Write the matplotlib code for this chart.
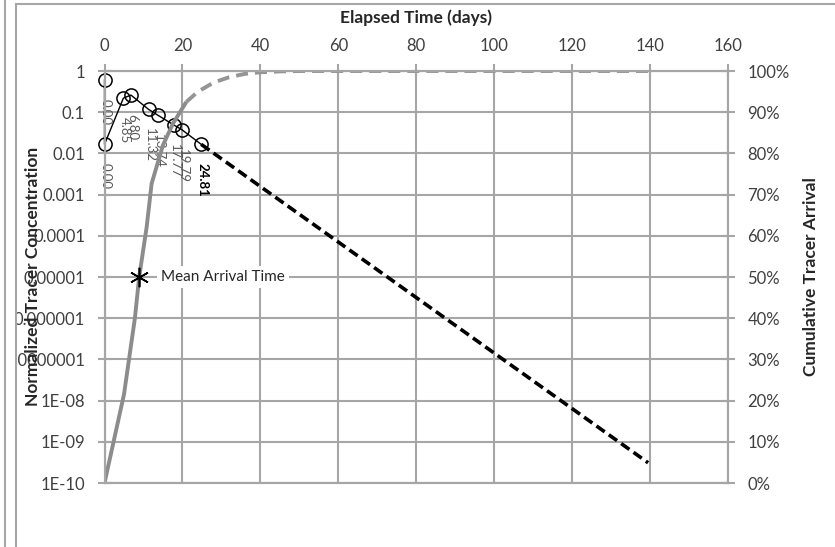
import matplotlib
matplotlib.use("Agg")
import matplotlib.pyplot as plt
from matplotlib.lines import Line2D
from matplotlib.patches import Rectangle

plt.rcParams['font.family'] = ['Lato', 'DejaVu Sans']

# ---- data ----
conc_days = [0.0, 0.0, 4.85, 6.80, 11.32, 13.74, 17.77, 19.79, 24.81]
conc_vals = [0.6, 0.0166, 0.22, 0.26, 0.117, 0.084, 0.049, 0.038, 0.0166]
conc_labels = ["0.00", "0.00", "4.85", "6.80", "11.32", "13.74", "17.77", "19.79", "24.81"]

extrap_days = [24.81, 139.5]
extrap_conc = [0.0166, 3.1e-10]

cum_days = [0.0, 5.0, 7.8, 8.9, 10.8, 12.1, 15.0, 17.6, 21.0]
cum_pct = [0.0, 21.5, 40.0, 50.0, 62.0, 72.7, 82.0, 87.3, 92.5]

cum_ext_days = [21.0, 24.0, 28.0, 32.0, 36.0, 40.0, 45.0, 50.0, 60.0, 140.0]
cum_ext_pct = [92.5, 95.0, 97.2, 98.5, 99.3, 99.7, 99.9, 100.0, 100.0, 100.0]

mean_day = 8.9
mean_pct = 50.0

x_ticks = [0, 20, 40, 60, 80, 100, 120, 140, 160]
y_ticks = [1, 0.1, 0.01, 0.001, 0.0001, 0.00001, 0.000001, 0.0000001, 1e-8, 1e-9, 1e-10]
y_tick_labels = ["1", "0.1", "0.01", "0.001", "0.0001", "0.00001", "0.000001",
                 "0.0000001", "1E-08", "1E-09", "1E-10"]
pct_ticks = [0, 10, 20, 30, 40, 50, 60, 70, 80, 90, 100]
pct_labels = [f"{p}%" for p in pct_ticks]

# ---- figure ----
W, H = 835, 547
fig = plt.figure(figsize=(W / 100, H / 100), dpi=100)
fig.patch.set_facecolor('white')

x0, x1 = 104.5, 728.0
y0, y1 = 71.0, 483.0
ax = fig.add_axes([x0 / W, 1 - y1 / H, (x1 - x0) / W, (y1 - y0) / H])
ax2 = ax.twinx()

grid_c = '#a6a6a6'
text_c = '#404040'

ax.set_xlim(0, 160)
ax.set_yscale('log')
ax.set_ylim(1e-10, 1)
ax.set_xticks(x_ticks)
ax.set_yticks(y_ticks)
ax.set_yticklabels(y_tick_labels)
ax.yaxis.set_minor_locator(matplotlib.ticker.NullLocator())
ax.xaxis.tick_top()
ax.xaxis.set_label_position('top')
ax.grid(True, which='major', color=grid_c, lw=1.5)
ax.set_axisbelow(True)

for ax_ in (ax, ax2):
    for s in ax_.spines.values():
        s.set_color(grid_c)
        s.set_linewidth(1.5)
    ax_.tick_params(colors=grid_c, labelcolor=text_c, labelsize=12, width=1.5, length=10, direction='inout')

ax.tick_params(axis='x', pad=7)
ax.tick_params(axis='y', pad=9)

ax2.set_ylim(0, 100)
ax2.set_yticks(pct_ticks)
ax2.set_yticklabels(pct_labels)
ax2.tick_params(axis='y', pad=9)

# concentration series
ax.plot(conc_days, conc_vals, color='black', lw=1.0, marker='o', ms=9.5,
        mfc='none', mec='black', mew=1.1, zorder=5, clip_on=False)
ax.plot(extrap_days, extrap_conc, color='black', lw=2.6, dashes=(2.8, 1.4), zorder=5)
for d, v, lab in zip(conc_days, conc_vals, conc_labels):
    bold = lab == "24.81"
    ax.annotate(lab, (d, v), xytext=(1, -19), textcoords='offset pixels',
                rotation=270, ha='center', va='top', fontsize=9.5,
                color='black' if bold else '#595959',
                fontweight='bold' if bold else 'normal', zorder=6)

# cumulative arrival
ax2.plot(cum_days, cum_pct, color='#8c8c8c', lw=2.8, solid_capstyle='butt')
ax2.plot(cum_ext_days, cum_ext_pct, color='#959595', lw=2.8, dashes=(3.1, 1.8))
ax2.plot([mean_day], [mean_pct], marker=(6, 2, 0), ms=14, color='black', mew=1.2, ls='none')
ax2.annotate("Mean Arrival Time", (mean_day, mean_pct), xytext=(22, 0),
             textcoords='offset pixels', ha='left', va='center', fontsize=11,
             color='#262626',
             bbox=dict(boxstyle='square,pad=0.25', fc='white', ec='none'))

# axis titles
fig.text(416 / W, 1 - 18 / H, "Elapsed Time (days)", ha='center', va='center',
         fontsize=12.5, fontweight='bold', color='#262626')
fig.text(33 / W, 1 - 276 / H, "Normalized Tracer Concentration", ha='center', va='center',
         rotation=90, fontsize=12.5, fontweight='bold', color='#262626', zorder=10)
fig.text(811 / W, 1 - 277 / H, "Cumulative Tracer Arrival", ha='center', va='center',
         rotation=90, fontsize=12.5, fontweight='bold', color='#262626')

# clip left tick labels at chart border
clip = Rectangle((17 / W, 0), 1, 1, transform=fig.transFigure)
for lbl in ax.get_yticklabels():
    lbl.set_clip_path(clip)

# chart borders
bc = '#a6a6a6'
fig.add_artist(Line2D([5 / W, 5 / W], [0, 1], color=bc, lw=1.5, transform=fig.transFigure))
fig.add_artist(Line2D([16 / W, 16 / W], [0, 1 - 4 / H], color=bc, lw=1.5, transform=fig.transFigure))
fig.add_artist(Line2D([16 / W, 1], [1 - 4 / H, 1 - 4 / H], color=bc, lw=1.5, transform=fig.transFigure))

fig.savefig('out.png', dpi=100)
